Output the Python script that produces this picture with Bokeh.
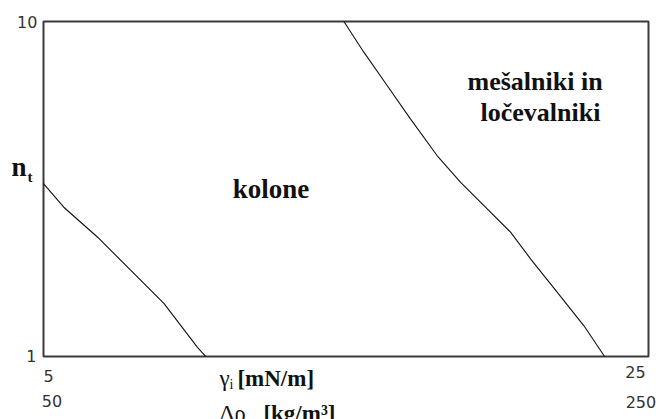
from bokeh.plotting import figure
from bokeh.models import Label, Range1d
from bokeh.embed import file_html
from bokeh.resources import INLINE

# Diagram box: x (gamma_i) 5..25, y (n_t, log) 1..10
box_x = [5, 25]
box_y = [1, 10]

# Boundary curves
left_x = [5.0, 5.67, 6.79, 7.88, 8.98, 10.09, 10.36]
left_y = [3.28, 2.79, 2.27, 1.81, 1.44, 1.064, 1.0]

right_x = [14.93, 15.59, 16.36, 17.13, 18.01, 18.79, 19.56, 20.44, 21.10, 21.98, 22.86, 23.55]
right_y = [10.0, 8.10, 6.44, 5.12, 3.98, 3.31, 2.82, 2.35, 1.957, 1.556, 1.237, 1.0]

y_tick_labels = ["1", "10"]
x_tick_labels_top = ["5", "25"]
x_tick_labels_bottom = ["50", "250"]
region_labels = ["kolone", "mešalniki in", "ločevalniki"]

p = figure(width=660, height=419, output_backend="svg", toolbar_location=None,
           x_range=Range1d(3.5785, 25.397), y_range=Range1d(0.6484, 11.555),
           y_axis_type="log",
           min_border_left=0, min_border_right=0, min_border_top=0, min_border_bottom=0)
p.axis.visible = False
p.grid.visible = False
p.outline_line_color = None
p.background_fill_color = "white"
p.border_fill_color = "white"

# frame of the diagram
p.quad(left=box_x[0], right=box_x[1], bottom=box_y[0], top=box_y[1],
       fill_color=None, line_color="#3a3a3a", line_width=2)

p.line(left_x, left_y, line_color="#111111", line_width=1.1)
p.line(right_x, right_y, line_color="#111111", line_width=1.1)

num_font = "DejaVu Sans"
serif = "'Liberation Serif', 'Times New Roman', serif"

def lab(x, y, t, size, font, style="normal", align="left", base="alphabetic", color="#111111"):
    p.add_layout(Label(x=x, y=y, text=t, text_font=font, text_font_size=size,
                       text_font_style=style, text_align=align, text_baseline=base,
                       text_color=color))

# y tick labels
lab(4.80, 10.0, y_tick_labels[1], "16px", num_font, align="right", base="middle", color="#333333")
lab(4.77, 1.0, y_tick_labels[0], "16px", num_font, align="right", base="middle", color="#333333")
# x tick labels (two scales)
lab(5.165, 0.872, x_tick_labels_top[0], "16px", num_font, align="center", base="middle", color="#333333")
lab(5.28, 0.734, x_tick_labels_bottom[0], "16px", num_font, align="center", base="middle", color="#333333")
lab(24.57, 0.896, x_tick_labels_top[1], "16px", num_font, align="center", base="middle", color="#333333")
lab(24.75, 0.729, x_tick_labels_bottom[1], "16px", num_font, align="center", base="middle", color="#333333")

# axis titles
lab(3.942, 3.69, "n", "27px", serif, style="bold")
lab(4.471, 3.446, "t", "15px", serif, style="bold")
lab(10.82, 0.860, "γ", "23px", serif)
lab(11.15, 0.825, "i", "14px", serif)
lab(11.41, 0.860, "[mN/m]", "23px", serif, style="bold")
lab(10.82, 0.676, "Δρ", "23px", serif)
lab(12.27, 0.676, "[kg/m³]", "23px", serif, style="bold")

# region labels
lab(12.52, 3.173, region_labels[0], "27px", serif, style="bold", align="center")
lab(21.25, 6.62, region_labels[1], "26px", serif, style="bold", align="center")
lab(21.43, 5.35, region_labels[2], "26px", serif, style="bold", align="center")

open("out.html", "w").write(file_html(p, INLINE))
